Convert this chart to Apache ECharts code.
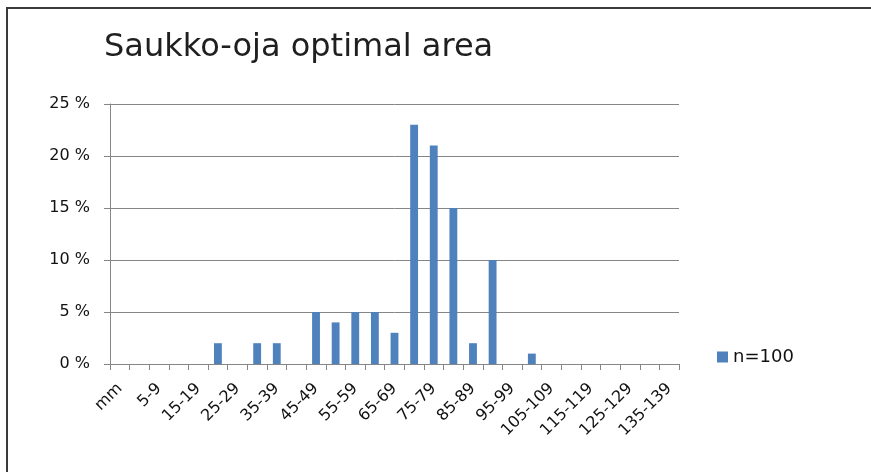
<!DOCTYPE html>
<html>
<head>
<meta charset="utf-8">
<script src="https://cdn.jsdelivr.net/npm/echarts@6/dist/echarts.min.js"></script>
<style>
  html, body { margin: 0; padding: 0; background: #fff; }
  #frame { position: absolute; left: 6px; top: 7px; width: 880px; height: 480px;
           border-left: 2px solid #3a3a3a; border-top: 2px solid #3a3a3a; box-sizing: border-box; }
  #chart { position: absolute; left: 0; top: 0; width: 871px; height: 472px; }
</style>
</head>
<body>
<div id="frame"></div>
<div id="chart"></div>
<script>
// Length classes (mm) of the sample
const categories = [
  'mm', '0-4', '5-9', '10-14', '15-19', '20-24', '25-29', '30-34', '35-39',
  '40-44', '45-49', '50-54', '55-59', '60-64', '65-69', '70-74', '75-79',
  '80-84', '85-89', '90-94', '95-99', '100-104', '105-109', '110-114',
  '115-119', '120-124', '125-129', '130-134', '135-139'
];
// Share of fish in each class, percent
const shares = [
  0, 0, 0, 0, 0, 2, 0, 2, 2,
  0, 5, 4, 5, 5, 3, 23, 21,
  15, 2, 10, 0, 1, 0, 0,
  0, 0, 0, 0, 0
];
const seriesName = 'n=100';
const yTicks = [0, 5, 10, 15, 20, 25];

const chart = echarts.init(document.getElementById('chart'), null, { renderer: 'canvas' });
const font = "'DejaVu Sans', 'Liberation Sans', sans-serif";
chart.setOption({
  animation: false,
  title: {
    text: 'Saukko-oja optimal area',
    left: 104, top: 32,
    padding: 0,
    textStyle: { fontFamily: font, fontSize: 32, fontWeight: 'normal', color: '#1f1f1f' }
  },
  grid: { left: 110, right: 192, top: 104, bottom: 108, containLabel: false },
  legend: {
    data: [seriesName],
    left: 712, top: 343,
    itemWidth: 11, itemHeight: 11, itemGap: 4,
    icon: 'rect',
    textStyle: { fontFamily: font, fontSize: 18, color: '#111' }
  },
  xAxis: {
    type: 'category',
    data: categories,
    boundaryGap: true,
    axisLine: { lineStyle: { color: '#868686', width: 1 } },
    axisTick: { show: true, alignWithLabel: false, interval: 0, length: 6, lineStyle: { color: '#868686' } },
    axisLabel: {
      interval: 1, rotate: 45, margin: 22,
      fontFamily: font, fontSize: 16, color: '#111'
    }
  },
  yAxis: {
    type: 'value',
    min: yTicks[0], max: yTicks[yTicks.length - 1], interval: 5,
    axisLine: { show: true, lineStyle: { color: '#868686' } },
    axisTick: { show: true, length: 6, lineStyle: { color: '#868686' } },
    splitLine: { lineStyle: { color: '#868686', width: 1 } },
    axisLabel: {
      margin: 20,
      fontFamily: font, fontSize: 16, color: '#111',
      formatter: v => v + ' %'
    }
  },
  series: [{
    name: seriesName,
    type: 'bar',
    data: shares,
    barWidth: '40%',
    itemStyle: { color: '#4F81BD' }
  }]
});
</script>
</body>
</html>
